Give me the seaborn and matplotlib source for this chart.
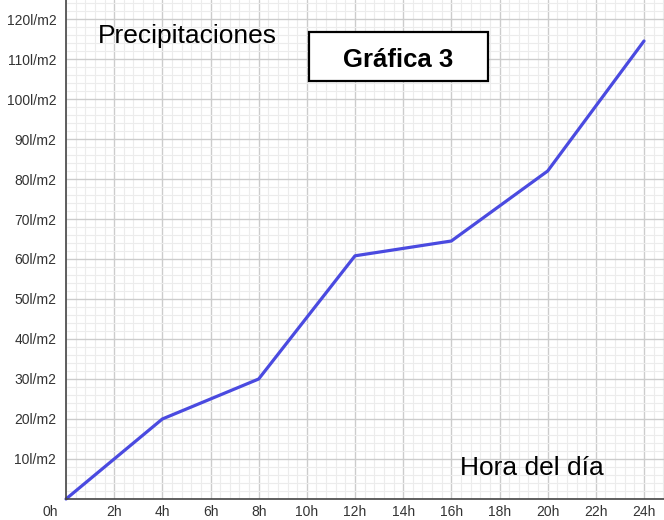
import matplotlib
matplotlib.use("Agg")
import matplotlib.pyplot as plt
import matplotlib.patches as patches
from matplotlib.ticker import MultipleLocator, FixedLocator
import seaborn as sns
import pandas as pd

hours = [0, 4, 8, 12, 16, 20, 24]
rain = [0, 20, 30, 60.8, 64.5, 82, 114.5]
x_ticks = [2, 4, 6, 8, 10, 12, 14, 16, 18, 20, 22, 24]
x_labels = [f"{h}h" for h in x_ticks]
y_ticks = [10, 20, 30, 40, 50, 60, 70, 80, 90, 100, 110, 120]
y_labels = [f"{v}l/m2" for v in y_ticks]

df = pd.DataFrame({"hora": hours, "lluvia": rain})

sns.set_style("white")
plt.rcParams["font.family"] = ["Liberation Sans", "DejaVu Sans"]
plt.rcParams["text.color"] = "black"

fig = plt.figure(figsize=(6.64, 5.2), dpi=100)
ax = fig.add_axes([66 / 664, 21 / 520, 598 / 664, 499 / 520])

ax.set_xlim(0, 24.83)
ax.set_ylim(0, 124.75)

ax.xaxis.set_major_locator(FixedLocator(x_ticks))
ax.yaxis.set_major_locator(FixedLocator(y_ticks))
ax.xaxis.set_minor_locator(MultipleLocator(0.4))
ax.yaxis.set_minor_locator(MultipleLocator(2))
ax.set_xticklabels(x_labels)
ax.set_yticklabels(y_labels)
ax.grid(which="major", color="#cccccc", linewidth=1.0)
ax.grid(which="minor", color="#ececec", linewidth=0.8)
ax.set_axisbelow(True)
ax.tick_params(which="both", length=0, labelsize=10, labelcolor="#333333")
ax.tick_params(axis="x", pad=4)
ax.tick_params(axis="y", pad=7)

sns.lineplot(data=df, x="hora", y="lluvia", ax=ax, color="#4a4ae0",
             linewidth=2.3, clip_on=False)
ax.set_xlabel("")
ax.set_ylabel("")

for s in ["top", "right"]:
    ax.spines[s].set_visible(False)
for s in ["left", "bottom"]:
    ax.spines[s].set_color("#444444")
    ax.spines[s].set_linewidth(1.2)

# "0h" label placed at bottom-left corner
fig.text(50 / 664, 1 - 512 / 520, "0h", ha="center", va="center",
         fontsize=10, color="#333333")

ax.text(1.33, 114, "Precipitaciones", fontsize=19, ha="left", va="baseline",
        color="black")
ax.text(16.36, 6, "Hora del día", fontsize=19, ha="left", va="baseline",
        color="black")
ax.text(13.79, 108.1, "Gráfica 3", fontsize=18.5, fontweight="bold",
        ha="center", va="baseline", color="black", zorder=4)
rect = patches.Rectangle((309 / 664, 1 - 81 / 520), 179 / 664, 49 / 520,
                         transform=fig.transFigure, fill=True,
                         facecolor="white", edgecolor="black", linewidth=1.6,
                         zorder=3)
ax.add_artist(rect)

fig.savefig("out.png", dpi=100)
